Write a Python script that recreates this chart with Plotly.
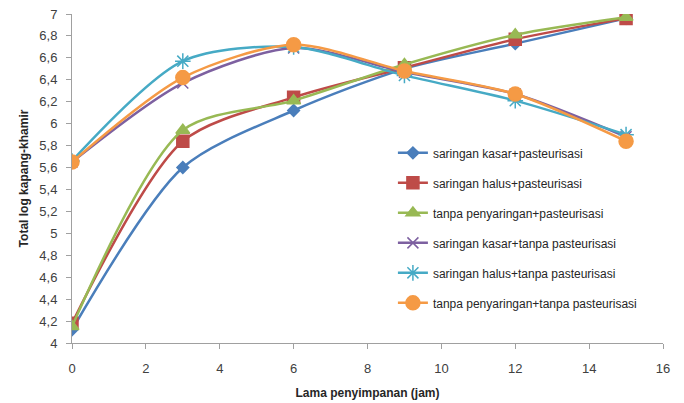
import plotly.graph_objects as go

x_jam = [0, 3, 6, 9, 12, 15]
names = [
    "saringan kasar+pasteurisasi",
    "saringan halus+pasteurisasi",
    "tanpa penyaringan+pasteurisasi",
    "saringan kasar+tanpa pasteurisasi",
    "saringan halus+tanpa pasteurisasi",
    "tanpa penyaringan+tanpa pasteurisasi",
]
kasar_past = [4.12, 5.60, 6.12, 6.50, 6.73, 6.96]
halus_past = [4.18, 5.84, 6.24, 6.51, 6.77, 6.96]
tanpa_past = [4.15, 5.94, 6.21, 6.54, 6.81, 6.97]
kasar_tanpa = [5.65, 6.37, 6.69, 6.47, 6.27, 5.88]
halus_tanpa = [5.66, 6.57, 6.70, 6.44, 6.21, 5.90]
tanpa_tanpa = [5.65, 6.42, 6.72, 6.48, 6.27, 5.84]

series = [kasar_past, halus_past, tanpa_past, kasar_tanpa, halus_tanpa, tanpa_tanpa]
colors = ["#4A7EBB", "#BE4B48", "#98B954", "#7D60A0", "#46AAC5", "#F59A45"]
symbols = ["diamond", "square", "triangle-up", "x-thin-open", "asterisk-open", "circle"]
sizes = [9, 12, 12, 11, 13, 14]

fig = go.Figure()
for i, (nm, ys) in enumerate(zip(names, series)):
    fig.add_trace(go.Scatter(
        x=x_jam, y=ys, name=nm, mode="lines+markers",
        line=dict(color=colors[i], width=2.5, shape="spline", smoothing=0.8),
        marker=dict(symbol=symbols[i], size=sizes[i], color=colors[i],
                    line=dict(color=colors[i], width=1.5)),
        legendgroup=str(i),
    ))

fig.update_layout(
    width=684, height=403,
    margin=dict(l=72, r=21, t=14, b=60),
    plot_bgcolor="white", paper_bgcolor="white",
    separators=",.",
    font=dict(family="Liberation Sans, Arial, sans-serif", size=12, color="#404040"),
    showlegend=True,
    legend=dict(x=0.543, y=0.622, xanchor="left", yanchor="top",
                font=dict(size=12, color="#262626"),
                tracegroupgap=11, traceorder="grouped",
                bgcolor="rgba(0,0,0,0)"),
    xaxis=dict(range=[0, 16], dtick=2, tick0=0, showgrid=False, zeroline=False,
               showline=True, linecolor="#A0A0A0", linewidth=1,
               ticks="outside", tickcolor="#A0A0A0", ticklen=5,
               ticklabelstandoff=8, automargin=False,
               tickfont=dict(size=13, color="#404040"),
               title=dict(text="<b>Lama penyimpanan (jam)</b>",
                          font=dict(size=12, color="#262626"), standoff=14)),
    yaxis=dict(range=[4, 7], dtick=0.2, tick0=4, showgrid=False, zeroline=False,
               showline=True, linecolor="#A0A0A0", linewidth=1,
               ticks="outside", tickcolor="#A0A0A0", ticklen=5,
               ticklabelstandoff=6, automargin=False,
               tickfont=dict(size=13, color="#404040"),
               title=dict(text="<b>Total log kapang-khamir</b>",
                          font=dict(size=12, color="#262626"), standoff=8)),
)

fig.write_html("out.html")
